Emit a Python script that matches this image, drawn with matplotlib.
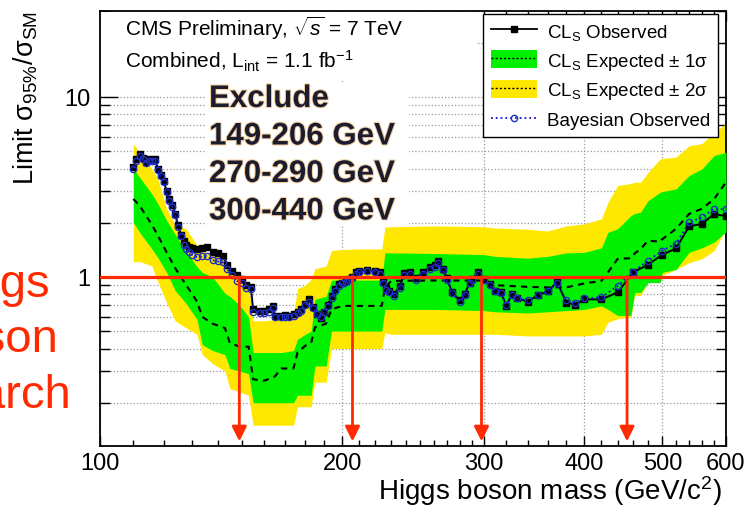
import matplotlib
matplotlib.use("Agg")
import matplotlib.pyplot as plt
import matplotlib.patheffects as pe
from matplotlib.lines import Line2D
from matplotlib.patches import Patch, Rectangle
from matplotlib.legend_handler import HandlerTuple
from matplotlib.ticker import FixedLocator, NullFormatter, LogLocator, FixedFormatter, FuncFormatter
import numpy as np

plt.rcParams['font.family'] = ['Liberation Sans', 'DejaVu Sans']
plt.rcParams['mathtext.fontset'] = 'custom'
plt.rcParams['mathtext.rm'] = 'Liberation Sans'
plt.rcParams['mathtext.it'] = 'Liberation Sans:italic'
plt.rcParams['mathtext.bf'] = 'Liberation Sans:bold'

# observed limits (CLs and Bayesian)
obs_mass = [110, 111, 112, 113, 114, 115, 116, 117, 118, 119, 120, 121, 122, 123, 124, 125,
            126, 127, 128, 129, 130, 132, 134, 136, 138, 140, 142, 144, 146, 148, 150, 152,
            154, 155, 158, 160, 162, 164, 165, 168, 170, 172, 174, 176, 178, 180, 182, 184,
            186, 188, 190, 192, 194, 196, 198, 200, 202, 204, 206, 208, 210, 215, 220, 223,
            225, 227, 229, 232, 236, 239, 243, 247, 252, 257, 261, 263, 267, 270, 274, 280,
            284, 288, 290, 295, 300, 305, 310, 315, 320, 325, 330, 340, 350, 360, 370, 380,
            390, 400, 420, 440, 460, 480, 500, 520, 540, 560, 580, 600]
obs_cls = [4.1, 4.5, 4.8, 4.6, 4.35, 4.5, 4.45, 4.5, 4.0, 3.7, 3.4, 3.0, 2.7, 2.5, 2.25, 1.95,
           1.72, 1.58, 1.5, 1.46, 1.44, 1.43, 1.45, 1.47, 1.38, 1.36, 1.31, 1.16, 1.08, 1.03, 0.975, 0.90,
           0.88, 0.66, 0.65, 0.65, 0.66, 0.69, 0.61, 0.61, 0.615, 0.61, 0.62, 0.64, 0.66, 0.71, 0.75, 0.68,
           0.62, 0.59, 0.64, 0.70, 0.78, 0.86, 0.91, 0.93, 0.95, 0.97, 1.0, 1.06, 1.08, 1.09, 1.08, 1.06,
           0.94, 0.87, 0.84, 0.80, 0.89, 1.05, 1.06, 0.98, 1.06, 1.13, 1.16, 1.23, 1.11, 0.98, 0.82, 0.74,
           0.80, 0.93, 0.97, 1.06, 0.97, 0.91, 0.84, 0.82, 0.69, 0.80, 0.76, 0.73, 0.79, 0.83, 0.935, 0.72,
           0.70, 0.75, 0.75, 0.82, 1.06, 1.17, 1.33, 1.44, 1.91, 1.97, 2.24, 2.17]
obs_bayes = [4.0, 4.4, 4.7, 4.5, 4.3, 4.4, 4.4, 4.4, 3.95, 3.65, 3.35, 2.95, 2.65, 2.45, 2.2, 1.9,
             1.68, 1.5, 1.42, 1.38, 1.33, 1.29, 1.30, 1.31, 1.24, 1.22, 1.21, 1.10, 1.02, 0.95, 0.93, 0.87,
             0.86, 0.64, 0.63, 0.63, 0.64, 0.67, 0.60, 0.60, 0.60, 0.60, 0.61, 0.63, 0.65, 0.70, 0.73, 0.67,
             0.62, 0.60, 0.64, 0.69, 0.76, 0.84, 0.89, 0.92, 0.94, 0.96, 0.99, 1.04, 1.06, 1.08, 1.07, 1.04,
             0.92, 0.85, 0.82, 0.78, 0.87, 1.02, 1.04, 0.96, 1.04, 1.11, 1.14, 1.2, 1.09, 0.96, 0.81, 0.73,
             0.79, 0.92, 0.96, 1.04, 0.96, 0.90, 0.83, 0.81, 0.70, 0.79, 0.76, 0.74, 0.79, 0.83, 0.92, 0.74,
             0.72, 0.76, 0.77, 0.89, 1.07, 1.23, 1.40, 1.53, 2.01, 2.14, 2.39, 2.37]

# expected limit with 1 sigma / 2 sigma bands
exp_mass = [110, 112, 116, 118, 121, 124, 128, 132, 134, 138, 143, 145, 149, 153, 155, 160, 165,
            168, 174, 176, 180, 183, 185, 191, 194, 200, 210, 224, 226, 230, 260, 300, 310, 340,
            360, 380, 400, 420, 428, 440, 457, 462, 470, 480, 497, 500, 520, 540, 560, 580, 600]
exp_median = [2.71, 2.49, 1.95, 1.70, 1.37, 1.12, 0.90, 0.73, 0.60, 0.55, 0.52, 0.43, 0.41, 0.41, 0.27,
              0.265, 0.28, 0.31, 0.31, 0.38, 0.415, 0.43, 0.525, 0.55, 0.66, 0.69, 0.69, 0.69, 0.86, 0.95,
              0.955, 0.955, 0.90, 0.88, 0.875, 0.875, 0.92, 0.95, 1.06, 1.26, 1.27, 1.35, 1.43, 1.59, 1.57,
              1.62, 1.85, 2.24, 2.39, 2.71, 3.36]
exp_lo1 = [2.01, 1.77, 1.43, 1.28, 1.06, 0.84, 0.71, 0.58, 0.42, 0.39, 0.37, 0.31, 0.30, 0.29, 0.20,
           0.20, 0.20, 0.20, 0.20, 0.22, 0.22, 0.22, 0.32, 0.32, 0.50, 0.50, 0.50, 0.50, 0.66, 0.66,
           0.66, 0.65, 0.64, 0.63, 0.64, 0.65, 0.66, 0.69, 0.66, 0.61, 0.61, 0.82, 0.82, 0.93, 0.93,
           1.06, 1.10, 1.37, 1.45, 1.56, 1.78]
exp_hi1 = [3.98, 3.58, 2.89, 2.55, 2.06, 1.72, 1.38, 1.14, 1.06, 1.0, 0.81, 0.78, 0.70, 0.60, 0.38,
           0.38, 0.38, 0.38, 0.39, 0.45, 0.48, 0.50, 0.75, 0.78, 0.96, 0.96, 0.96, 0.96, 1.36, 1.36,
           1.35, 1.33, 1.30, 1.27, 1.30, 1.36, 1.37, 1.45, 1.77, 1.85, 2.19, 2.25, 2.29, 2.65, 2.95,
           2.98, 3.08, 3.66, 3.98, 4.72, 4.93]
exp_lo2 = [1.21, 1.22, 1.15, 0.94, 0.72, 0.57, 0.52, 0.48, 0.37, 0.33, 0.30, 0.24, 0.23, 0.22, 0.15,
           0.15, 0.15, 0.15, 0.15, 0.19, 0.19, 0.19, 0.26, 0.26, 0.40, 0.40, 0.40, 0.40, 0.49, 0.48,
           0.48, 0.48, 0.48, 0.47, 0.47, 0.47, 0.47, 0.48, 0.56, 0.585, 0.60, 0.79, 0.79, 0.935, 0.95,
           1.02, 1.10, 1.20, 1.26, 1.40, 1.85]
exp_hi2 = [5.49, 4.93, 3.98, 3.5, 2.39, 1.95, 1.85, 1.50, 1.40, 1.31, 1.26, 1.15, 1.0, 0.90, 0.57,
           0.57, 0.58, 0.60, 0.62, 0.86, 0.90, 0.97, 1.11, 1.15, 1.40, 1.42, 1.43, 1.43, 1.89, 1.90,
           1.92, 1.90, 1.87, 1.84, 1.80, 1.92, 1.97, 2.10, 2.60, 3.22, 3.30, 3.36, 3.36, 3.81, 4.52,
           4.55, 4.63, 5.36, 5.50, 6.36, 7.1]

# excluded-region arrows
arrow_mass = [149, 206, 298, 452]
xticks = [100, 200, 300, 400, 500, 600]
exclude_lines = ["Exclude", "149-206 GeV", "270-290 GeV", "300-440 GeV"]

W, H = 746, 510
RED = '#ff2a00'
GREEN = '#00f000'
YELLOW = '#ffe800'

def fx(px):
    return px / W

def fy(py):
    return 1 - py / H

fig = plt.figure(figsize=(W / 100, H / 100), dpi=100)
ax = fig.add_axes([fx(100), fy(447), (726 - 100) / W, (447 - 12) / H])
ax.set_xscale('log')
ax.set_yscale('log')
ax.set_xlim(100, 600)
ax.set_ylim(0.115, 30)

ax.fill_between(exp_mass, exp_lo2, exp_hi2, color=YELLOW, lw=0, zorder=2)
ax.fill_between(exp_mass, exp_lo1, exp_hi1, color=GREEN, lw=0, zorder=3)
ax.plot(exp_mass, exp_median, color='k', ls=(0, (3, 2.5)), lw=1.5, zorder=4)
ax.plot(obs_mass, obs_cls, color='k', lw=1.4, marker='s', ms=5, zorder=5)
ax.plot(obs_mass, obs_bayes, color='#1010d0', ls=':', lw=1.3, marker='o', ms=4.5,
        mfc='none', mec='#2030c0', mew=1, zorder=6)

# white boxes behind the text blocks (grid hidden there)
for (x0, y0, x1, y1) in [(100, 13, 476, 80), (205, 83, 409, 226)]:
    ax.add_patch(Rectangle((fx(x0), fy(y1)), (x1 - x0) / W, (y1 - y0) / H,
                           transform=fig.transFigure, fc='white', ec='none', zorder=1.5))

ax.axhline(1, color=RED, lw=2.3, zorder=8)
for m in arrow_mass:
    ax.annotate('', xy=(m, 0.122), xytext=(m, 1), zorder=8,
                arrowprops=dict(arrowstyle='-|>', color=RED, lw=2, mutation_scale=22,
                                shrinkA=0, shrinkB=0))

# axes styling
ax.xaxis.set_major_locator(FixedLocator(xticks))
ax.xaxis.set_major_formatter(FixedFormatter([str(t) for t in xticks]))
ax.xaxis.set_minor_locator(FixedLocator(list(np.arange(110, 200, 10)) + list(np.arange(210, 300, 10))
                                        + list(np.arange(320, 600, 20))))
ax.xaxis.set_minor_formatter(NullFormatter())
ax.yaxis.set_major_locator(LogLocator(base=10, numticks=10))
ax.yaxis.set_minor_locator(LogLocator(base=10, subs=np.arange(2, 10), numticks=10))
ax.yaxis.set_minor_formatter(NullFormatter())
ax.yaxis.set_major_formatter(FuncFormatter(lambda v, p: '%g' % v))
ax.tick_params(which='both', direction='in', top=True, right=True, width=1, labelsize=17)
ax.tick_params(axis='x', which='major', length=7, pad=4)
ax.tick_params(axis='x', which='minor', length=4)
ax.tick_params(axis='y', which='major', length=13, pad=7)
ax.tick_params(axis='y', which='minor', length=7)
for s in ax.spines.values():
    s.set_linewidth(1.3)
ax.set_axisbelow(True)
ax.xaxis.grid(True, which='major', ls=':', color='#999999', lw=0.9)
ax.yaxis.grid(True, which='both', ls=':', color='#999999', lw=0.9)

fig.text(fx(722), fy(500), 'Higgs boson mass (GeV/c$^{2}$)', ha='right', va='baseline', fontsize=20)
fig.text(fx(26), fy(11), 'Limit σ$_{95\\%}$/σ$_{\\rm SM}$', rotation=90, ha='center', va='top',
         fontsize=19.5)

ax.text(fx(125), fy(36), 'CMS Preliminary, $\\sqrt{s}$ = 7 TeV', transform=fig.transFigure,
        fontsize=15, va='baseline', zorder=9)
ax.text(fx(125), fy(68), 'Combined, L$_{\\rm int}$ = 1.1 fb$^{-1}$', transform=fig.transFigure,
        fontsize=15, va='baseline', zorder=9)
for i, line in enumerate(exclude_lines):
    ax.text(fx(209), fy(108 + 37.5 * i), line, transform=fig.transFigure, fontsize=22.5,
            fontweight='bold', color='#1c1c30', va='baseline', zorder=9,
            path_effects=[pe.withStroke(linewidth=1.5, foreground='#f5d2a0')])

for word, xr, yb in [('Higgs', 50, 297), ('boson', 58, 352), ('search', 71, 408)]:
    fig.text(fx(xr), fy(yb), word, ha='right', va='baseline', fontsize=34, color=RED,
             family=['Liberation Sans Narrow', 'Liberation Sans'])

handles = [
    Line2D([], [], color='k', lw=1.3, marker='s', ms=4.5),
    (Patch(fc=GREEN, ec='none'), Line2D([], [], color='k', ls=(0, (1.5, 1.5)), lw=1)),
    (Patch(fc=YELLOW, ec='none'), Line2D([], [], color='k', ls=(0, (1.5, 1.5)), lw=1)),
    Line2D([], [], color='#1010d0', ls=':', lw=1.3, marker='o', ms=4.5, mfc='none', mec='#2030c0'),
]
labels = ['CL$_{\\rm S}$ Observed', 'CL$_{\\rm S}$ Expected ± 1σ', 'CL$_{\\rm S}$ Expected ± 2σ',
          'Bayesian Observed']
leg = fig.legend(handles, labels, loc='upper left', bbox_to_anchor=(fx(483), fy(15)),
                 handler_map={tuple: HandlerTuple(ndivide=1)}, fontsize=13.5, frameon=True,
                 fancybox=False, edgecolor='k', framealpha=1, borderpad=0.4, handlelength=2.5,
                 handleheight=1.1, handletextpad=0.5, labelspacing=0.45, borderaxespad=0)
leg.get_frame().set_linewidth(1)
leg.set_zorder(10)

fig.savefig('out.png', dpi=100)
